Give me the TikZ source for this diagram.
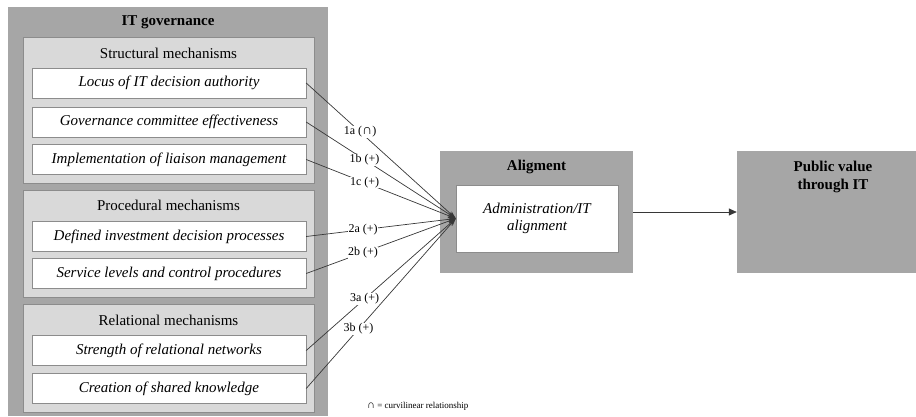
\documentclass[tikz,border=0pt]{standalone}
\usepackage{fontspec}
\setmainfont{Liberation Serif}
\usetikzlibrary{arrows.meta}

\definecolor{darkfill}{RGB}{166, 166, 166}
\definecolor{lightfill}{RGB}{217, 217, 217}
\definecolor{boxline}{RGB}{140, 140, 140}
\definecolor{linkline}{RGB}{55, 55, 55}

\newcommand{\curvsym}[1]{{\fontsize{#1}{#1}\selectfont ∩}}

\begin{document}
\begin{tikzpicture}[x = 1pt, y = -1pt,
    darkbox/.style = {fill = darkfill, draw = none, inner sep = 0pt},
    groupbox/.style = {fill = lightfill, draw = boxline, inner sep = 0pt, minimum width = 291},
    itembox/.style = {fill = white, draw = boxline, inner sep = 0pt, minimum width = 274, minimum height = 30,
      font = \fontsize{15}{17}\selectfont\itshape},
    title/.style = {font = \fontsize{15}{18}\selectfont\bfseries, align = center},
    subtitle/.style = {font = \fontsize{15}{17}\selectfont},
    link/.style = {draw = linkline, line width = 0.7pt, -{Stealth[length = 8pt, width = 5pt]}},
    lbl/.style = {fill = white, inner sep = 0.5pt, font = \fontsize{12}{14}\selectfont, text = black}]

      \useasboundingbox (0, 0) rectangle (916, 416);

      \node[darkbox, minimum width = 320, minimum height = 409] (itgov) at (168, 211.5) {};
      \node[title] (itgovtitle) at (168, 22) {IT governance};

      \node[groupbox, minimum height = 146] (structural) at (168.5, 110) {};
      \node[subtitle] (structtitle) at (168.5, 53) {Structural mechanisms};
      \node[itembox] (locus) at (169, 83) {Locus of IT decision authority};
      \node[itembox] (committee) at (169, 122) {Governance committee effectiveness};
      \node[itembox] (liaison) at (169, 159.5) {Implementation of liaison management};

      \node[groupbox, minimum height = 107] (procedural) at (168.5, 243.5) {};
      \node[subtitle] (proctitle) at (168.5, 205) {Procedural mechanisms};
      \node[itembox] (investment) at (169, 236.5) {Defined investment decision processes};
      \node[itembox] (service) at (169, 273.5) {Service levels and control procedures};

      \node[groupbox, minimum height = 108] (relational) at (168.5, 358) {};
      \node[subtitle] (reltitle) at (168.5, 320) {Relational mechanisms};
      \node[itembox] (networks) at (169, 350.5) {Strength of relational networks};
      \node[itembox] (knowledge) at (169, 388.5) {Creation of shared knowledge};

      \node[darkbox, minimum width = 193, minimum height = 122] (alignbox) at (536.5, 212) {};
      \node[title] (aligntitle) at (536.5, 167) {Aligment};
      \node[itembox, minimum width = 162, minimum height = 67, align = center] (admin) at (537, 218.5)
        {Administration/IT\\alignment};

      \node[darkbox, minimum width = 193, minimum height = 122] (public) at (833.5, 212) {};
      \node[title] (publictitle) at (833, 177) {Public value\\through IT};

      \draw[link] (locus.east) -- node[lbl, pos = 0.36] {1a (\curvsym{14})} (admin.west);
      \draw[link] (committee.east) -- node[lbl, pos = 0.39] {1b (+)} (admin.west);
      \draw[link] (liaison.east) -- node[lbl, pos = 0.39] {1c (+)} (admin.west);
      \draw[link] (investment.east) -- node[lbl, pos = 0.38] {2a (+)} (admin.west);
      \draw[link] (service.east) -- node[lbl, pos = 0.38] {2b (+)} (admin.west);
      \draw[link] (networks.east) -- node[lbl, pos = 0.39] {3a (+)} (admin.west);
      \draw[link] (knowledge.east) -- node[lbl, pos = 0.35] {3b (+)} (admin.west);

      \draw[link, -{Triangle[length = 8pt, width = 7pt]}] (alignbox.east) -- (public.west);

      \node[anchor = west, font = \fontsize{9}{11}\selectfont, inner sep = 0pt] (note) at (367, 406)
        {\curvsym{11} = curvilinear relationship};

    \end{tikzpicture}
\end{document}
